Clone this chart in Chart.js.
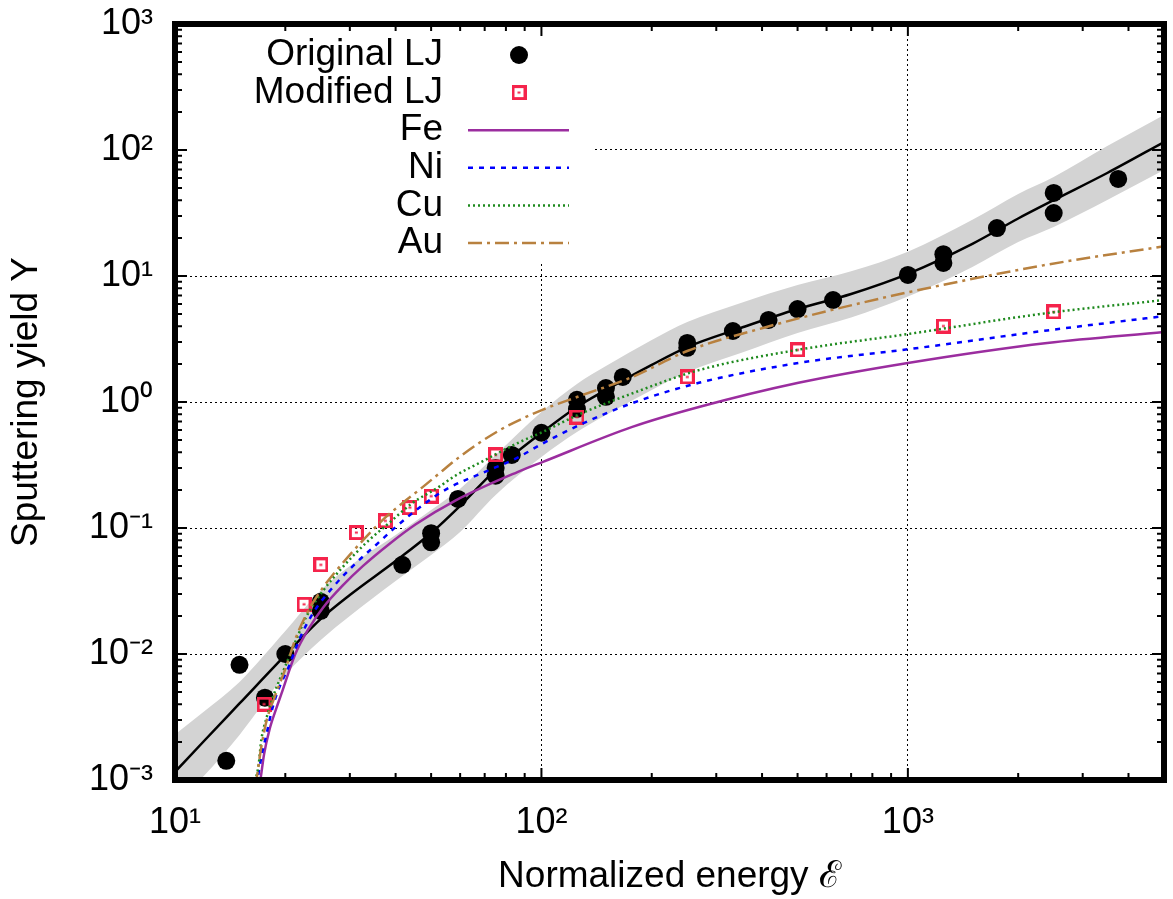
<!DOCTYPE html>
<html>
<head>
<meta charset="utf-8">
<script src="https://cdn.jsdelivr.net/npm/chart.js@4/dist/chart.umd.min.js"></script>
<style>
  body { margin: 0; background: #fff; }
  #wrap { width: 1173px; height: 899px; }
</style>
</head>
<body>
<div id="wrap"><canvas id="yield" width="1173" height="899"></canvas></div>
<script>
// MD results
const origX = [13.8, 15, 17.6, 20, 25, 25, 41.7, 50, 50, 59.2, 75, 75, 83, 100, 125, 125, 150, 150, 166.7, 250, 250, 333, 416.7, 500, 625, 1000, 1250, 1250, 1750, 2500, 2500, 3750];
const origY = [0.00142, 0.0082, 0.0045, 0.0100, 0.026, 0.022, 0.051, 0.091, 0.077, 0.17, 0.30, 0.26, 0.38, 0.57, 1.04, 0.88, 1.29, 1.10, 1.58, 2.94, 2.69, 3.66, 4.48, 5.47, 6.45, 10.2, 14.9, 12.7, 24.0, 45.6, 31.6, 58.9];
const modX = [17.5, 22.5, 25, 31.25, 37.5, 43.75, 50, 75, 125, 250, 500, 1250, 2500];
const modY = [0.0040, 0.0248, 0.051, 0.092, 0.114, 0.145, 0.179, 0.38, 0.76, 1.58, 2.59, 4.01, 5.18];

// fit through original LJ + grey band
const fitX = [10, 12, 15, 20, 25, 30, 40, 50, 60, 75, 100, 125, 150, 200, 250, 350, 500, 700, 1000, 1500, 2000, 2500, 3500, 5000];
const fitY = [0.00116, 0.00204, 0.00405, 0.0098, 0.019, 0.0294, 0.0547, 0.0913, 0.15, 0.289, 0.568, 0.913, 1.245, 1.97, 2.73, 3.87, 5.47, 7.2, 10.4, 18.0, 28.6, 40.0, 65.7, 115.7];
const bandHi = [0.0023, 0.0035, 0.0060, 0.0152, 0.032, 0.050, 0.088, 0.139, 0.205, 0.38, 0.833, 1.39, 1.93, 3.10, 4.31, 6.11, 8.48, 10.9, 15.6, 27.9, 44.8, 61.1, 107.6, 189.6];
const bandLo = [0.00063, 0.00108, 0.00228, 0.0068, 0.0129, 0.020, 0.038, 0.061, 0.093, 0.183, 0.366, 0.578, 0.789, 1.245, 1.73, 2.45, 3.53, 4.68, 6.86, 11.8, 18.6, 24.5, 40.1, 69.4];

// theory curves
const feX = [16.85, 17.1, 17.5, 18.1, 18.9, 19.5, 21.3, 23.2, 25.4, 28.7, 32.6, 38.3, 45.4, 58.2, 86, 101, 177, 269, 503, 1000, 2400, 5000];
const feY = [0.0008, 0.001, 0.0016, 0.0025, 0.0037, 0.0048, 0.010, 0.016, 0.0235, 0.035, 0.050, 0.074, 0.107, 0.165, 0.278, 0.335, 0.634, 0.912, 1.42, 2.04, 2.94, 3.59];
const niX = [16.7, 17.2, 17.8, 18.3, 19.0, 20.5, 21.8, 23.8, 27.0, 31.2, 35.3, 40.0, 47.4, 55.7, 69.3, 85.8, 101, 127, 177, 269, 503, 1000, 2400, 5000];
const niY = [0.0009, 0.00152, 0.00236, 0.0034, 0.0049, 0.0081, 0.0129, 0.0211, 0.034, 0.0528, 0.073, 0.1016, 0.152, 0.207, 0.275, 0.36, 0.47, 0.657, 0.98, 1.42, 2.04, 2.62, 3.7, 4.8];
const cuX = [16.4, 16.9, 17.2, 17.8, 18.5, 20.1, 21.4, 22.8, 25.4, 28.7, 33.2, 38.3, 44.5, 52.4, 58.2, 69.3, 85.8, 101, 127, 177, 269, 503, 1000, 2400, 5000];
const cuY = [0.0009, 0.0013, 0.00208, 0.00316, 0.00455, 0.0083, 0.0129, 0.0197, 0.032, 0.049, 0.076, 0.109, 0.158, 0.211, 0.26, 0.34, 0.47, 0.58, 0.80, 1.17, 1.79, 2.60, 3.46, 5.08, 6.45];
const auX = [16.6, 17.2, 17.8, 18.7, 20.1, 21.4, 23.2, 25.4, 28.7, 32.6, 36.9, 41.8, 47.4, 53.7, 60, 77.1, 101, 125.6, 177, 251, 409, 618, 1000, 2400, 5000];
const auY = [0.0009, 0.00183, 0.003, 0.00455, 0.0079, 0.0136, 0.0225, 0.034, 0.0528, 0.080, 0.116, 0.158, 0.211, 0.285, 0.37, 0.60, 0.87, 1.10, 1.58, 2.55, 3.92, 5.36, 7.42, 12.3, 17.2];

const xTicks = [10, 100, 1000];
const xTickLabels = ['10¹', '10²', '10³'];
const yTicks = [1e-3, 1e-2, 1e-1, 1, 10, 100, 1000];
const yTickLabels = ['10⁻³', '10⁻²', '10⁻¹', '10⁰', '10¹', '10²', '10³'];
const legendOrder = ['Original LJ', 'Modified LJ', 'Fe', 'Ni', 'Cu', 'Au'];

const FONT = '"Liberation Sans", Arial, Helvetica, sans-serif';
const RED = '#f5234b';

function pts(xs, ys) {
  return xs.map((x, i) => ({ x: x, y: ys[i] }));
}

// open square with a dot in the middle (gnuplot style)
function openSquare(size, color) {
  const c = document.createElement('canvas');
  c.width = size; c.height = size;
  const g = c.getContext('2d');
  g.strokeStyle = color;
  g.lineWidth = 3;
  g.strokeRect(1.5, 1.5, size - 3, size - 3);
  g.fillStyle = color;
  g.fillRect(size / 2 - 1.5, size / 2 - 1, 3, 2);
  return c;
}
const sq = openSquare(15, RED);

function curve(label, xs, ys, color, dash, order) {
  return {
    label: label, data: pts(xs, ys), borderColor: color, borderWidth: 2.5,
    borderDash: dash, pointRadius: 0, cubicInterpolationMode: 'monotone', order: order
  };
}

const datasets = [
  { label: 'band lo', data: pts(fitX, bandLo), borderColor: 'rgba(0,0,0,0)', borderWidth: 1,
    pointRadius: 0, cubicInterpolationMode: 'monotone', fill: false, order: 10 },
  { label: 'band hi', data: pts(fitX, bandHi), borderColor: 'rgba(0,0,0,0)', borderWidth: 1,
    pointRadius: 0, cubicInterpolationMode: 'monotone', fill: '-1', backgroundColor: '#d3d3d3', order: 9 },
  { label: 'fit', data: pts(fitX, fitY), borderColor: '#000', borderWidth: 2.5,
    pointRadius: 0, cubicInterpolationMode: 'monotone', order: 8 },
  { label: 'Original LJ', data: pts(origX, origY), showLine: false, pointStyle: 'circle',
    pointRadius: 9, backgroundColor: '#000', borderColor: '#000', borderWidth: 0, order: 7 },
  { label: 'Modified LJ', data: pts(modX, modY), showLine: false, pointStyle: sq,
    pointRadius: 7, borderColor: RED, order: 6 },
  curve('Fe', feX, feY, '#9b2d9f', [], 5),
  curve('Ni', niX, niY, '#0000ff', [5, 6], 4),
  curve('Cu', cuX, cuY, '#1e8a1e', [2, 3], 3),
  curve('Au', auX, auY, '#b8813f', [14, 5, 3, 5], 2)
];

const frameAndLegend = {
  id: 'frameAndLegend',
  beforeDatasetsDraw(chart) {
    const { ctx, chartArea: a } = chart;
    ctx.save();
    ctx.fillStyle = '#fff';
    ctx.fillRect(a.left, a.top, 417, 238);
    ctx.font = '37px ' + FONT;
    ctx.textAlign = 'right';
    ctx.textBaseline = 'middle';
    legendOrder.forEach((name, i) => {
      const ds = chart.data.datasets.find(d => d.label === name);
      const y = a.top + 31 + i * 37.6;
      ctx.fillStyle = '#000';
      ctx.fillText(name, a.left + 268, y);
      const x0 = a.left + 293, x1 = a.left + 394, xm = a.left + 344;
      if (ds.showLine === false) {
        if (ds.pointStyle === 'circle') {
          ctx.beginPath();
          ctx.arc(xm, y, ds.pointRadius, 0, Math.PI * 2);
          ctx.fill();
        } else {
          ctx.drawImage(ds.pointStyle, xm - sq.width / 2, y - sq.height / 2);
        }
      } else {
        ctx.strokeStyle = ds.borderColor;
        ctx.lineWidth = ds.borderWidth;
        ctx.setLineDash(ds.borderDash);
        ctx.beginPath();
        ctx.moveTo(x0, y);
        ctx.lineTo(x1, y);
        ctx.stroke();
        ctx.setLineDash([]);
      }
    });
    ctx.restore();
  },
  afterDraw(chart) {
    const { ctx, chartArea: a, scales } = chart;
    const x = scales.x, y = scales.y;
    ctx.save();
    ctx.strokeStyle = '#000';
    ctx.lineWidth = 2;
    ctx.beginPath();
    // inward ticks on all four sides
    for (let e = 1; e <= 3; e++) {
      for (let m = 1; m < 10; m++) {
        const v = m * Math.pow(10, e);
        if (v > x.max) break;
        const p = x.getPixelForValue(v);
        const len = m === 1 ? 12 : 7;
        ctx.moveTo(p, a.bottom); ctx.lineTo(p, a.bottom - len);
        ctx.moveTo(p, a.top); ctx.lineTo(p, a.top + len);
      }
    }
    for (let e = -3; e <= 3; e++) {
      for (let m = 1; m < 10; m++) {
        const v = m * Math.pow(10, e);
        if (v > y.max * 1.0001) break;
        const p = y.getPixelForValue(v);
        const len = m === 1 ? 12 : 7;
        ctx.moveTo(a.left, p); ctx.lineTo(a.left + len, p);
        ctx.moveTo(a.right, p); ctx.lineTo(a.right - len, p);
      }
    }
    ctx.stroke();
    ctx.lineWidth = 6;
    ctx.strokeRect(a.left, a.top, a.right - a.left, a.bottom - a.top);
    ctx.restore();
  }
};

function noPad(s) {
  s.paddingTop = 0; s.paddingBottom = 0; s.paddingLeft = 0; s.paddingRight = 0;
}

Chart.defaults.color = '#000';
Chart.defaults.font.family = FONT;

new Chart(document.getElementById('yield'), {
  type: 'line',
  data: { datasets: datasets },
  options: {
    responsive: false,
    animation: false,
    layout: { padding: { top: 24, right: 6, left: 0, bottom: 0 } },
    plugins: { legend: { display: false }, tooltip: { enabled: false } },
    scales: {
      x: {
        type: 'logarithmic', min: 10, max: 5000,
        afterBuildTicks: s => { s.ticks = xTicks.map(v => ({ value: v })); },
        afterFit: s => { s.height = 119; noPad(s); },
        ticks: { callback: (v, i) => xTickLabels[i], font: { size: 36 }, padding: 21,
                 maxRotation: 0, autoSkip: false },
        grid: { color: '#000', lineWidth: 1, drawTicks: false, borderDash: [2, 3] },
        border: { display: false, dash: [2, 3] },
        title: { display: true, text: 'Normalized energy ℰ', font: { size: 37 }, padding: { top: 0, bottom: 0 } }
      },
      y: {
        type: 'logarithmic', min: 1e-3, max: 1e3,
        afterBuildTicks: s => { s.ticks = yTicks.map(v => ({ value: v })); },
        afterFit: s => { s.width = 175; noPad(s); },
        ticks: { callback: (v, i) => yTickLabels[i], font: { size: 36 }, padding: 22, autoSkip: false },
        grid: { color: '#000', lineWidth: 1, drawTicks: false, borderDash: [2, 3] },
        border: { display: false, dash: [2, 3] },
        title: { display: true, text: 'Sputtering yield Y', font: { size: 37 }, padding: { top: 5, bottom: 0 } }
      }
    }
  },
  plugins: [frameAndLegend]
});
</script>
</body>
</html>
